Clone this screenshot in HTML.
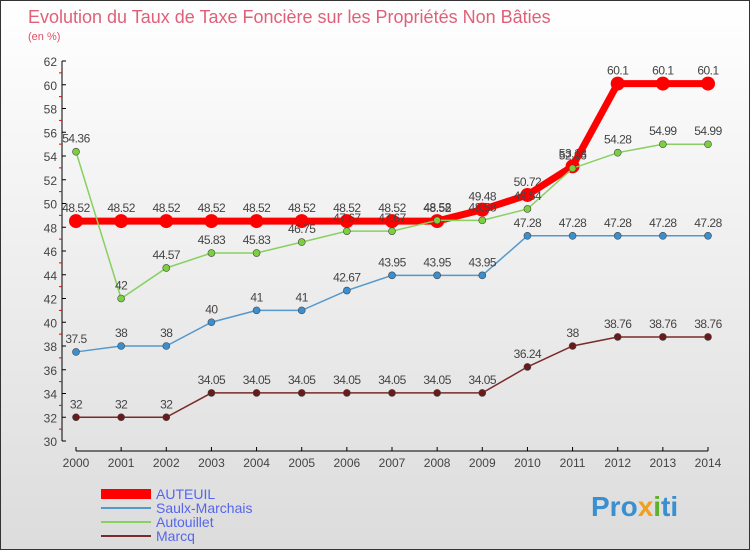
<!DOCTYPE html>
<html><head><meta charset="utf-8"><style>
body{margin:0}
#c{width:748px;height:548px;border:1px solid #333;background:linear-gradient(#fff,#dcdcdc);position:relative;font-family:"Liberation Sans",sans-serif;overflow:hidden}
svg text{font-family:"Liberation Sans",sans-serif}
</style></head><body>
<div id="c">
<svg id="s" width="748" height="548">
<text x="27" y="22" font-size="18" fill="#e06078">Evolution du Taux de Taxe Foncière sur les Propriétés Non Bâties</text>
<text x="27" y="39" font-size="11" fill="#e0506a">(en %)</text>
<g id="g"></g>
<text x="590" y="515" font-size="28" font-weight="bold" fill="#3a8fd0">Pro<tspan fill="#f0a020">x</tspan><tspan fill="#60b030">i</tspan>ti</text>
</svg></div>
<script>
const years=["2000","2001","2002","2003","2004","2005","2006","2007","2008","2009","2010","2011","2012","2013","2014"];
const auteuil=[48.52,48.52,48.52,48.52,48.52,48.52,48.52,48.52,48.52,49.48,50.72,53.13,60.1,60.1,60.1];
const saulx=[37.5,38,38,40,41,41,42.67,43.95,43.95,43.95,47.28,47.28,47.28,47.28,47.28];
const autouillet=[54.36,42,44.57,45.83,45.83,46.75,47.67,47.67,48.58,48.58,49.54,52.96,54.28,54.99,54.99];
const marcq=[32,32,32,34.05,34.05,34.05,34.05,34.05,34.05,34.05,36.24,38,38.76,38.76,38.76];
const yTicks=[30,32,34,36,38,40,42,44,46,48,50,52,54,56,58,60,62];
const NS="http://www.w3.org/2000/svg";const g=document.getElementById('g');
const X=i=>75+i*(632/14), Y=v=>440-(v-30)*380/32;
function mk(t,a,p){const e=document.createElementNS(NS,t);for(const k in a)e.setAttribute(k,a[k]);(p||g).appendChild(e);return e;}
let e=mk('line',{x1:61,y1:60,x2:61,y2:440,stroke:'#000'});

e=mk('line',{x1:75,y1:450,x2:707,y2:450,stroke:'#000'});

yTicks.forEach(v=>{mk('line',{x1:61,y1:Y(v),x2:65,y2:Y(v),stroke:'#000'});
 if(v<62)mk('line',{x1:58,y1:Y(v+1),x2:61,y2:Y(v+1),stroke:'#e00'});
 const t=mk('text',{x:56,y:Y(v)+5,'font-size':12,fill:'#444','text-anchor':'end'});t.textContent=v;
 });
years.forEach((y,i)=>{mk('line',{x1:X(i),y1:446,x2:X(i),y2:450,stroke:'#000'});
 const t=mk('text',{x:X(i),y:466,'font-size':12,fill:'#444','text-anchor':'middle'});t.textContent=y;
 });
function series(d,col,w,r,dot,name){const gg=mk('g',{});
 mk('polyline',{points:d.map((v,i)=>X(i)+','+Y(v)).join(' '),fill:'none',stroke:col,'stroke-width':w},gg);
 d.forEach((v,i)=>{const c=mk('circle',{cx:X(i),cy:Y(v),r:r,fill:dot,stroke:'#444','stroke-width':r>6?0:0.6},gg);
  
  const t=mk('text',{x:X(i),y:Y(v)-9,'font-size':12,fill:'#444','text-anchor':'middle','letter-spacing':'-0.5'},gg);t.textContent=v;
  });}
series(marcq,'#7a2a2a',1.5,3.5,'#6a1a1a','marcq');
series(saulx,'#5599cc',1.5,3.5,'#3a8fd0','saulx-marchais');
series(auteuil,'#f00',7,7,'#f00','auteuil');
series(autouillet,'#88d060',1.5,3.5,'#7cd040','autouillet');
const leg=[['AUTEUIL','#f00',10],['Saulx-Marchais','#5599cc',2],['Autouillet','#88d060',2],['Marcq','#7a2a2a',2]];
leg.forEach((l,i)=>{const y=493+i*14;mk('line',{x1:100,y1:y,x2:150,y2:y,stroke:l[1],'stroke-width':l[2]});
 const t=mk('text',{x:155,y:y+5,'font-size':14,fill:'#5566ee'});t.textContent=l[0];
 });
</script></body></html>
